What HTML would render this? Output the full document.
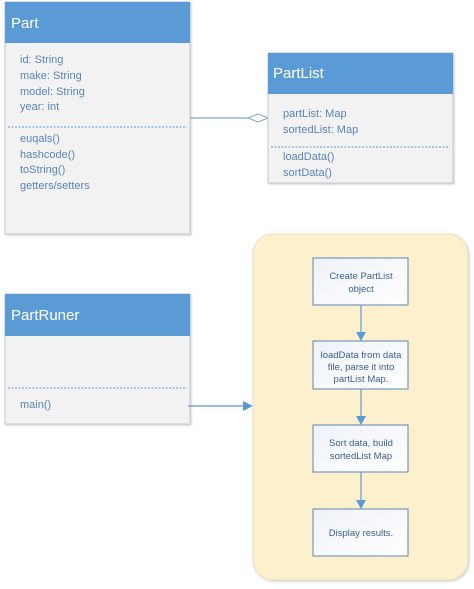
<!DOCTYPE html>
<html><head><meta charset="utf-8"><style>
html,body{margin:0;padding:0;background:#fff;width:474px;height:589px;overflow:hidden}
svg text{font-family:"Liberation Sans",sans-serif}
</style></head><body>
<svg width="474" height="589" viewBox="0 0 474 589" xmlns="http://www.w3.org/2000/svg">
<defs>
<filter id="sh" x="-10%" y="-10%" width="130%" height="130%"><feDropShadow dx="1" dy="1" stdDeviation="1" flood-color="#000" flood-opacity="0.2"/></filter>
<linearGradient id="bg" x1="0" y1="0" x2="1" y2="1"><stop offset="0" stop-color="#eef2f8"/><stop offset="1" stop-color="#ffffff"/></linearGradient>
</defs>
<!-- Part -->
<rect x="5" y="2" width="185" height="232" fill="#f2f2f2" stroke="#c3ccd8" filter="url(#sh)"/>
<rect x="5" y="2" width="185" height="41" fill="#5b9bd5"/>
<text x="11" y="28" font-size="15" fill="#fff">Part</text>
<g font-size="11" fill="#5b84b8">
<text x="20" y="63">id: String</text>
<text x="20" y="79">make: String</text>
<text x="20" y="95">model: String</text>
<text x="20" y="110">year: int</text>
<text x="20" y="142">euqals()</text>
<text x="20" y="158">hashcode()</text>
<text x="20" y="173">toString()</text>
<text x="20" y="189">getters/setters</text>
</g>
<line x1="8" y1="127" x2="187" y2="127" stroke="#5b9bd5" stroke-dasharray="2,1.5"/>
<!-- connector -->
<line x1="190" y1="118" x2="248" y2="118" stroke="#7fa6d0" stroke-width="1.2"/>
<polygon points="248,118 258,114 268,118 258,122" fill="#fff" stroke="#7fa6d0"/>
<!-- PartList -->
<rect x="268" y="53" width="185" height="130" fill="#f2f2f2" stroke="#c3ccd8" filter="url(#sh)"/>
<rect x="268" y="53" width="185" height="41" fill="#5b9bd5"/>
<text x="273" y="78" font-size="15" fill="#fff">PartList</text>
<g font-size="11" fill="#5b84b8">
<text x="283" y="117">partList: Map</text>
<text x="283" y="133">sortedList: Map</text>
<text x="283" y="160">loadData()</text>
<text x="283" y="176">sortData()</text>
</g>
<line x1="271" y1="147" x2="450" y2="147" stroke="#5b9bd5" stroke-dasharray="2,1.5"/>
<!-- PartRuner -->
<rect x="5" y="294" width="185" height="130" fill="#f2f2f2" stroke="#c3ccd8" filter="url(#sh)"/>
<rect x="5" y="294" width="185" height="42" fill="#5b9bd5"/>
<text x="11" y="320" font-size="15" fill="#fff">PartRuner</text>
<line x1="8" y1="388" x2="187" y2="388" stroke="#5b9bd5" stroke-dasharray="2,1.5"/>
<text x="20" y="408" font-size="11" fill="#5b84b8">main()</text>
<line x1="188" y1="406" x2="244" y2="406" stroke="#5b9bd5" stroke-width="1.2"/>
<polygon points="243,401 253,406 243,411" fill="#5b9bd5"/>
<!-- container -->
<rect x="253" y="234" width="215" height="346" rx="20" fill="#fdf0cd" stroke="#e9dfc6" filter="url(#sh)"/>
<g stroke="#5b84b8" fill="url(#bg)">
<rect x="313" y="258" width="95" height="47"/>
<rect x="313" y="341" width="95" height="48"/>
<rect x="313" y="425" width="95" height="47"/>
<rect x="313" y="509" width="95" height="47"/>
</g>
<g stroke="#5b9bd5" stroke-width="1.2">
<line x1="361" y1="305" x2="361" y2="333"/>
<line x1="361" y1="389" x2="361" y2="417"/>
<line x1="361" y1="472" x2="361" y2="501"/>
</g>
<g fill="#5b9bd5">
<polygon points="356,332 366,332 361,341"/>
<polygon points="356,416 366,416 361,425"/>
<polygon points="356,500 366,500 361,509"/>
</g>
<g font-size="9.5" fill="#3e5f8a" text-anchor="middle">
<text x="361" y="279">Create PartList</text>
<text x="361" y="292">object</text>
<text x="361" y="358">loadData from data</text>
<text x="361" y="370">file, parse it into</text>
<text x="361" y="382">partList Map.</text>
<text x="361" y="446">Sort data, build</text>
<text x="361" y="459">sortedList Map</text>
<text x="361" y="536">Display results.</text>
</g>
</svg>
</body></html>
